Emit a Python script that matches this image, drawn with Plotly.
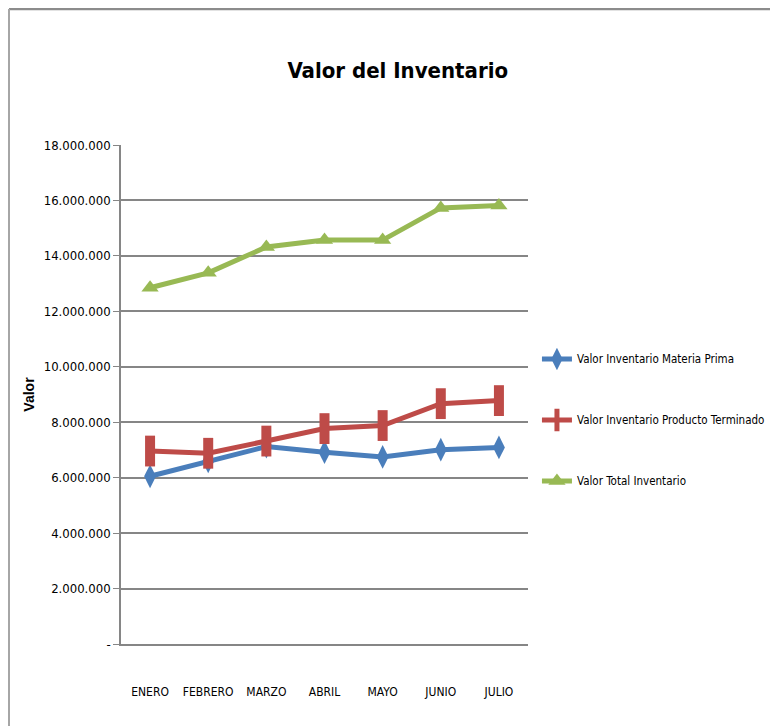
import plotly.graph_objects as go

meses = ["ENERO", "FEBRERO", "MARZO", "ABRIL", "MAYO", "JUNIO", "JULIO"]
materia_prima = [6050000, 6590000, 7120000, 6920000, 6750000, 7010000, 7090000]
producto_terminado = [6960000, 6880000, 7320000, 7770000, 7880000, 8670000, 8780000]
total_inventario = [12850000, 13390000, 14320000, 14570000, 14570000, 15730000, 15820000]
y_ticks = [0, 2000000, 4000000, 6000000, 8000000, 10000000, 12000000, 14000000, 16000000, 18000000]
y_ticktext = ["-" if v == 0 else f"{v:,}".replace(",", ".") for v in y_ticks]

NARROW = "DejaVu Sans Condensed"

fig = go.Figure()
series = [
    ("Valor Inventario Materia Prima", materia_prima, "#4A7EBB",
     dict(symbol="diamond-tall", size=17, color="#4A7EBB")),
    ("Valor Inventario Producto Terminado", producto_terminado, "#BE4B48",
     dict(symbol="line-ns", size=22, color="#BE4B48", line=dict(color="#BE4B48", width=10))),
    ("Valor Total Inventario", total_inventario, "#98B954",
     dict(symbol="triangle-up", size=15, color="#98B954")),
]
for i, (name, vals, col, mk) in enumerate(series):
    fig.add_trace(go.Scatter(
        x=meses, y=vals, name=name, mode="lines+markers",
        line=dict(color=col, width=5),
        marker=mk,
        legendgroup=str(i),
    ))

fig.update_layout(
    width=778, height=726,
    margin=dict(l=113, r=258, t=137, b=90, autoexpand=False),
    paper_bgcolor="white", plot_bgcolor="white",
    title=dict(text="<b>Valor del Inventario</b>", x=0.501, xanchor="center",
               y=0.914, yanchor="middle",
               font=dict(family=NARROW, size=22, color="black")),
    legend=dict(x=1.022, xanchor="left", y=0.449, yanchor="middle",
                font=dict(family=NARROW, size=11.5, color="black"),
                tracegroupgap=42, traceorder="grouped", itemwidth=30),
    showlegend=True,
    shapes=[
        dict(type="line", xref="paper", yref="paper", x0=-0.2752, x1=1.7, y0=1.2725, y1=1.2725,
             line=dict(color="#8C8C8C", width=2.5)),
        dict(type="line", xref="paper", yref="paper", x0=-0.2752, x1=-0.2752, y0=1.2725, y1=-0.2,
             line=dict(color="#A6A6A6", width=2)),
    ],
)
fig.update_xaxes(
    type="category", range=[-0.5, 6.5], automargin=False,
    showline=True, linecolor="#868686", linewidth=2,
    showgrid=False, ticks="", tickangle=0,
    tickfont=dict(family=NARROW, size=12, color="black"),
    ticklabelstandoff=36,
)
fig.update_yaxes(
    range=[0, 18000000], tickvals=y_ticks, ticktext=y_ticktext, automargin=False,
    showline=True, linecolor="#868686", linewidth=1.5,
    showgrid=True, gridcolor="#868686", gridwidth=2,
    ticks="outside", ticklen=6, tickcolor="#868686",
    tickfont=dict(family=NARROW, size=13, color="black"),
    title=dict(text="<b>Valor</b>", font=dict(family="Liberation Sans, Arial, sans-serif", size=14, color="black"),
               standoff=6),
    zeroline=False,
)

fig.write_html("out.html")
